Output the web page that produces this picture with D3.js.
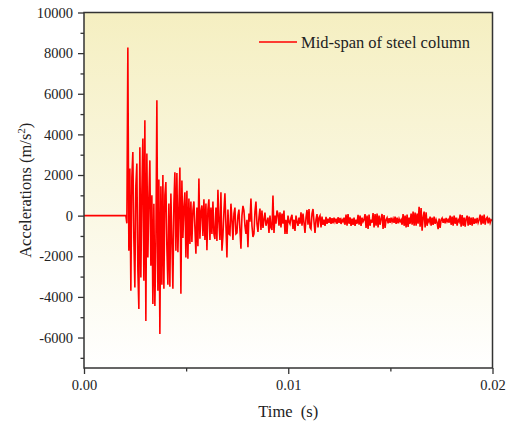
<!DOCTYPE html>
<html lang="en">
	<head>
		<meta charset="utf-8">
		<title>Mid-span acceleration of steel column</title>
		<script type="text/javascript" src="https://cdn.jsdelivr.net/npm/d3@7"></script>
		<style type="text/css">
			body { margin: 0; background: #fff; }
			text { font-family: "Liberation Serif", "Times New Roman", serif; fill: #222; }
		</style>
	</head>
	<body>
		<script type="text/javascript">

		var w = 511;
		var h = 430;
		var margin = {top: 12.5, right: 18.5, bottom: 62, left: 84};

		//axis settings
		var timeDomain = [0, 0.02];
		var accelDomain = [-7500, 10000];
		var timeTicks = [0, 0.01, 0.02];
		var timeMinorTicks = [0.005, 0.015];
		var accelTicks = [-6000, -4000, -2000, 0, 2000, 4000, 6000, 8000, 10000];
		var accelMinorTicks = [-7000, -5000, -3000, -1000, 1000, 3000, 5000, 7000, 9000];
		var seriesName = "Mid-span of steel column";

		//record is flat (0) from t = 0 until the impact, then sampled
		var leadIn = [[0, 0]];
		var sampleStart = 0.002;
		var sampleStep = 0.000049;
		var accel = [
			0, 0, -380, 8280, -1730, 2320, -3700, 1900, 3130, -1200,
			-3540, 1500, 2570, -2700, -4600, 3370, -3050, 1200, 3800, -3200,
			4690, -5190, 3060, -2060, 800, 2720, -2470, 1000, -4350, 590,
			-4450, -1400, 5680, -3700, 1780, -5830, 1450, -3400, 2000, -3600,
			1000, 1650, -1600, -3400, 600, -3500, 1090, -1200, -3600, 600,
			2140, -1730, 2100, -1800, 300, 2370, -3850, 1730, -1100, 400,
			1150, -2060, 1230, -2120, 840, -1400, 700, -1300, 250, 700,
			-600, -1880, 400, -1500, 1830, -1140, 200, 500, -1000, 800,
			-1200, 600, -1700, 300, 800, -1200, 400, -900, 700, -900,
			-1150, 400, -1250, 1270, -300, -1200, 1150, -1730, -1000, 200,
			1100, -500, -2060, 300, -900, -950, 590, -200, -1200, 100,
			400, -900, -850, 0, 300, -700, -1630, 0, 480, 250,
			-500, -900, -200, -1560, 100, -300, 840, -500, -1050, -900,
			200, 690, -400, -800, -100, 350, -700, 250, -600, -200,
			150, -500, -300, -100, -850, 0, -600, -700, 990, -850,
			0, -400, 250, 100, -500, 160, -580, 100, -400, 250,
			-900, -200, -900, 0, -300, -410, -100, 40, -660, -200,
			-750, 0, -300, -500, -100, -400, 165, -500, 100, -350,
			-850, -100, 280, -450, 330, -580, -660, 100, 330, -300,
			-850, -200, 80, -580, -100, 0, -580, -50, -450, -200,
			-500, -60, -410, -150, -350, -80, -400, -120, -380, -100,
			-300, -150, -410, -80, -350, -110, -410, -200, -300, -100,
			-450, 50, -490, 80, -400, -80, -500, -150, -450, -100,
			-500, -200, -400, 40, -450, 0, -500, -100, -300, -200,
			80, -600, 0, -660, 50, -500, -200, -350, 130, -580,
			80, -500, 100, -580, 0, -450, -150, 80, -660, 30,
			-600, -200, -100, -380, -120, -350, -100, -300, -150, -350,
			-50, -400, -100, -380, -150, -300, -200, -450, 80, -500,
			0, -580, 50, -550, -100, -400, 100, -450, 200, -500,
			150, -490, 100, -400, 440, -550, 380, -740, -100, 200,
			-580, 165, -500, -150, -300, -50, -490, -100, -450, -50,
			-400, -200, -350, -660, -150, -600, -200, -120, -350, -150,
			-380, -110, -300, -200, -350, 0, -450, -50, -490, 0,
			-400, -100, -490, -200, -300, 50, -540, 30, -500, -100,
			-540, -150, 0, -490, -50, -450, -100, -490, -80, -410,
			-150, -380, -110, -350, -200, 50, -440, 0, -400, 50,
			-440, -150, -80, -380, -100, -350, -200, -250
		];

		var dataset = leadIn.concat(accel.map(function(d, i) {
			return [sampleStart + i * sampleStep, d];
		}));

		var xScale = d3.scaleLinear()
						.domain(timeDomain)
						.range([margin.left, w - margin.right]);

		var yScale = d3.scaleLinear()
						.domain(accelDomain)
						.range([h - margin.bottom, margin.top]);

		var svg = d3.select("body")
					.append("svg")
					.attr("width", w)
					.attr("height", h);

		//background gradient (pale yellow to white)
		var grad = svg.append("defs")
					.append("linearGradient")
					.attr("id", "bg")
					.attr("x1", 0).attr("y1", 0)
					.attr("x2", 0).attr("y2", 1);
		grad.append("stop").attr("offset", "0%").attr("stop-color", "#f5efc1");
		grad.append("stop").attr("offset", "100%").attr("stop-color", "#ffffff");

		svg.select("defs")
			.append("clipPath")
			.attr("id", "plotclip")
			.append("rect")
			.attr("x", margin.left)
			.attr("y", margin.top)
			.attr("width", w - margin.left - margin.right)
			.attr("height", h - margin.top - margin.bottom);

		svg.append("rect")
			.attr("x", margin.left)
			.attr("y", margin.top)
			.attr("width", w - margin.left - margin.right)
			.attr("height", h - margin.top - margin.bottom)
			.attr("fill", "url(#bg)");

		//the signal
		var line = d3.line()
					.x(function(d) { return xScale(d[0]); })
					.y(function(d) { return yScale(d[1]); });

		svg.append("path")
			.datum(dataset)
			.attr("clip-path", "url(#plotclip)")
			.attr("fill", "none")
			.attr("stroke", "#ff0000")
			.attr("stroke-width", 1.6)
			.attr("stroke-linejoin", "miter")
			.attr("d", line);

		//axes (plain hyphen for negatives, as in the original)
		var intFormat = function(d) { return String(d); };

		var yAxis = d3.axisLeft(yScale)
					.tickValues(accelTicks)
					.tickSize(6)
					.tickPadding(5)
					.tickFormat(intFormat);
		var yMinor = d3.axisLeft(yScale)
					.tickValues(accelMinorTicks)
					.tickSize(3.5)
					.tickFormat("");
		var xAxis = d3.axisBottom(xScale)
					.tickValues(timeTicks)
					.tickSize(6)
					.tickPadding(6)
					.tickFormat(function(d) { return d.toFixed(2); });
		var xMinor = d3.axisBottom(xScale)
					.tickValues(timeMinorTicks)
					.tickSize(3.5)
					.tickFormat("");

		function styleAxis(g) {
			g.select(".domain").remove();
			g.attr("font-family", null);
			g.selectAll("line").attr("stroke", "#333").attr("stroke-width", 1.3);
			g.selectAll("text")
				.attr("font-size", 14.5)
				.attr("fill", "#222");
		}

		svg.append("g")
			.attr("transform", "translate(" + margin.left + ",0)")
			.call(yAxis).call(styleAxis);
		svg.append("g")
			.attr("transform", "translate(" + margin.left + ",0)")
			.call(yMinor).call(styleAxis);
		svg.append("g")
			.attr("transform", "translate(0," + (h - margin.bottom) + ")")
			.call(xAxis).call(styleAxis);
		svg.append("g")
			.attr("transform", "translate(0," + (h - margin.bottom) + ")")
			.call(xMinor).call(styleAxis);

		//frame
		svg.append("rect")
			.attr("x", margin.left)
			.attr("y", margin.top)
			.attr("width", w - margin.left - margin.right)
			.attr("height", h - margin.top - margin.bottom)
			.attr("fill", "none")
			.attr("stroke", "#333")
			.attr("stroke-width", 1.5);

		//legend
		svg.append("line")
			.attr("x1", 259).attr("x2", 297)
			.attr("y1", 42).attr("y2", 42)
			.attr("stroke", "#ff0000")
			.attr("stroke-width", 1.3);
		svg.append("text")
			.attr("x", 301)
			.attr("y", 47.5)
			.attr("font-size", 16.5)
			.text(seriesName);

		//axis titles
		svg.append("text")
			.attr("x", (margin.left + w - margin.right) / 2)
			.attr("y", 417)
			.attr("text-anchor", "middle")
			.attr("font-size", 16.5)
			.attr("xml:space", "preserve")
			.text("Time  (s)");

		var yTitle = svg.append("text")
			.attr("transform", "translate(31," + ((margin.top + h - margin.bottom) / 2) + ") rotate(-90)")
			.attr("text-anchor", "middle")
			.attr("font-size", 16.5);
		yTitle.append("tspan").text("Accelerations (m/s");
		yTitle.append("tspan").attr("font-size", 11).attr("dy", -6).text("2");
		yTitle.append("tspan").attr("dy", 6).text(")");

		</script>
	</body>
</html>
